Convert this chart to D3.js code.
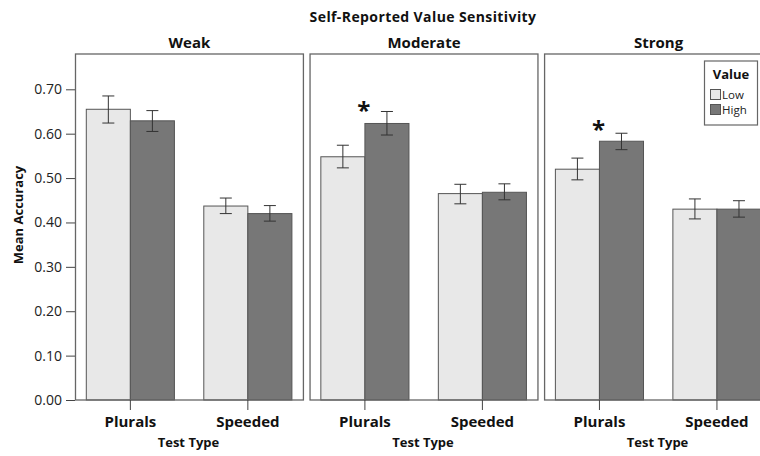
<!DOCTYPE html>
<html><head><meta charset="utf-8">
<script src="https://cdn.jsdelivr.net/npm/d3@7/dist/d3.min.js"></script>
<style>body{margin:0;background:#fff}svg{display:block}text{font-family:"Open Sans","Noto Sans",sans-serif}</style>
</head><body><svg id="c" width="760" height="456"></svg>
<script>
const panels = ["Weak", "Moderate", "Strong"];
const tests = ["Plurals", "Speeded"];
const groups = ["Low", "High"];
// means per panel: [Plurals, Speeded]
const lowMean  = [[0.655, 0.437], [0.548, 0.465], [0.520, 0.430]];
const highMean = [[0.629, 0.420], [0.623, 0.468], [0.583, 0.430]];
const lowLo  = [[0.624, 0.420], [0.523, 0.442], [0.496, 0.408]];
const lowHi  = [[0.685, 0.455], [0.574, 0.486], [0.545, 0.453]];
const highLo = [[0.605, 0.403], [0.597, 0.451], [0.564, 0.412]];
const highHi = [[0.652, 0.438], [0.650, 0.487], [0.601, 0.449]];
const stars = [null, 0.66, 0.618]; // significance marker height on Plurals
const yTicks = [0, 0.1, 0.2, 0.3, 0.4, 0.5, 0.6, 0.7];
const colors = {Low: "#e8e8e8", High: "#777777"};

const svg = d3.select("#c");
const frameTop = 54, frameBottom = 400;
const y = d3.scaleLinear().domain([0, 0.7]).range([frameBottom, 89.3]);
const px = d3.scaleBand().domain(panels).range([75, 773]).paddingInner(0.024);
const pw = px.bandwidth();
const x = d3.scaleBand().domain(tests).range([11.3, pw - 12]).paddingInner(0.25);
const xs = d3.scaleBand().domain(groups).range([0, x.bandwidth()]);

svg.append("text").attr("x", 423).attr("y", 22).attr("text-anchor", "middle")
  .attr("font-size", 14).attr("font-weight", "bold").attr("letter-spacing", 0.4).attr("fill", "#111")
  .text("Self-Reported Value Sensitivity");

svg.append("text").attr("transform", "translate(23,215) rotate(-90)").attr("text-anchor", "middle")
  .attr("font-size", 13).attr("font-weight", "bold").attr("fill", "#111").text("Mean Accuracy");

// y axis
const yAxis = d3.axisLeft(y).tickValues(yTicks).tickFormat(d3.format(".2f")).tickSize(9).tickSizeOuter(0);
const ya = svg.append("g").attr("transform", "translate(75,0)").call(yAxis);
ya.select(".domain").remove();
ya.selectAll("line").attr("stroke", "#444");
ya.selectAll("text").attr("font-size", 14).attr("fill", "#222").attr("font-family", '"Open Sans",sans-serif').attr("dx", -1);

panels.forEach((p, i) => {
  const g = svg.append("g").attr("transform", `translate(${px(p)},0)`);
  g.append("text").attr("x", pw / 2).attr("y", 48).attr("text-anchor", "middle")
    .attr("font-size", 15).attr("font-weight", "bold").attr("fill", "#111").text(p);
  const data = [];
  tests.forEach((t, j) => {
    data.push({t, g: "Low", v: lowMean[i][j], lo: lowLo[i][j], hi: lowHi[i][j]});
    data.push({t, g: "High", v: highMean[i][j], lo: highLo[i][j], hi: highHi[i][j]});
  });
  g.selectAll("rect.bar").data(data).join("rect").attr("class", "bar")
    .attr("x", d => x(d.t) + xs(d.g)).attr("width", xs.bandwidth())
    .attr("y", d => y(d.v)).attr("height", d => y(0) - y(d.v))
    .attr("fill", d => colors[d.g]).attr("stroke", "#555").attr("stroke-width", 1);
  const eb = g.selectAll("g.eb").data(data).join("g").attr("class", "eb")
    .attr("transform", d => `translate(${x(d.t) + xs(d.g) + xs.bandwidth() / 2},0)`);
  eb.append("line").attr("y1", d => y(d.lo)).attr("y2", d => y(d.hi)).attr("stroke", "#333");
  eb.append("line").attr("x1", -6).attr("x2", 6).attr("y1", d => y(d.lo)).attr("y2", d => y(d.lo)).attr("stroke", "#333");
  eb.append("line").attr("x1", -6).attr("x2", 6).attr("y1", d => y(d.hi)).attr("y2", d => y(d.hi)).attr("stroke", "#333");
  // frame
  g.append("rect").attr("x", 0.5).attr("y", frameTop).attr("width", pw - 1).attr("height", frameBottom - frameTop)
    .attr("fill", "none").attr("stroke", "#666").attr("stroke-width", 1.3);
  // x axis
  const xa = g.append("g").attr("transform", `translate(0,${frameBottom})`)
    .call(d3.axisBottom(x).tickSize(10).tickSizeOuter(0).tickPadding(6));
  xa.select(".domain").remove();
  xa.selectAll("line").attr("stroke", "#444");
  xa.selectAll("text").attr("font-size", 15).attr("font-weight", "bold").attr("fill", "#111")
    .attr("font-family", '"Open Sans",sans-serif');
  g.append("text").attr("x", pw / 2 - 1).attr("y", 447).attr("text-anchor", "middle")
    .attr("font-size", 13).attr("font-weight", "bold").attr("fill", "#111").text("Test Type");
  if (stars[i] !== null) {
    g.append("text").attr("x", x("Plurals") + x.bandwidth() / 2 - 1).attr("y", y(stars[i]) + 12)
      .attr("text-anchor", "middle").attr("font-size", 24).attr("font-weight", "bold").attr("fill", "#111").text("*");
  }
});

// legend
const lg = svg.append("g");
lg.append("rect").attr("x", 704.5).attr("y", 61).attr("width", 53).attr("height", 64)
  .attr("fill", "#fff").attr("stroke", "#666").attr("stroke-width", 1.2);
lg.append("text").attr("x", 731).attr("y", 79).attr("text-anchor", "middle")
  .attr("font-size", 13).attr("font-weight", "bold").attr("fill", "#111").text("Value");
groups.forEach((s, k) => {
  lg.append("rect").attr("x", 710.5).attr("y", 89.5 + k * 15).attr("width", 10).attr("height", 10)
    .attr("fill", colors[s]).attr("stroke", "#555");
  lg.append("text").attr("x", 722).attr("y", 99 + k * 15).attr("font-size", 11.5)
    .attr("font-family", '"DejaVu Sans",sans-serif').attr("fill", "#222").text(s);
});
</script></body></html>
